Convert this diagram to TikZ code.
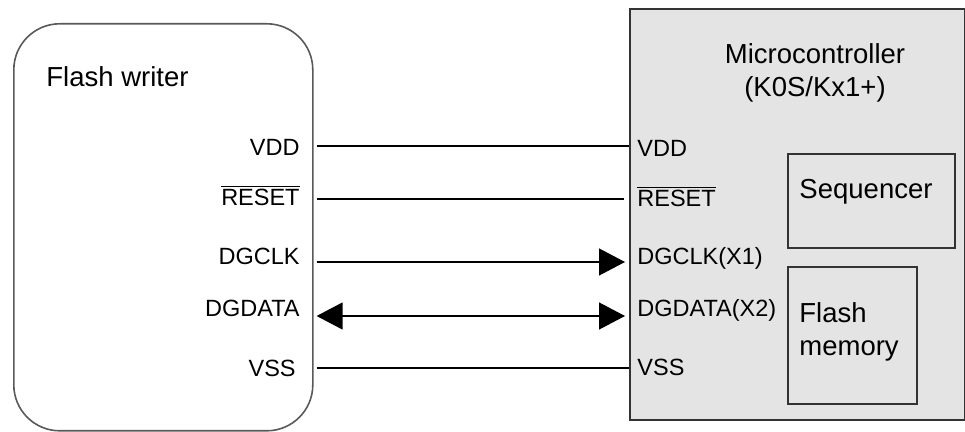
\documentclass[tikz,border=0pt]{standalone}
\usepackage{fontspec}
\setmainfont{Liberation Sans}
\usetikzlibrary{arrows.meta}
\definecolor{mcugray}{RGB}{228,228,228}
\tikzset{
    title/.style={font=\fontsize{13.75}{16.5}\selectfont, inner sep=0pt},
    pin/.style={font=\fontsize{11.75}{14}\selectfont, inner sep=0pt, text height=8.4pt, text depth=0pt},
    box/.style={draw=black!80, line width=0.8pt, anchor=north west, inner sep=0pt},
    wire/.style={line width=0.65pt},
    tip/.style={-{Triangle[length=13pt,width=13.5pt]}},
    twotip/.style={{Triangle[length=13pt,width=13.5pt]}-{Triangle[length=13pt,width=13.5pt]}},
}

\begin{document}
\begin{tikzpicture}[x=0.5pt,y=-0.5pt]
    \useasboundingbox (0,0) rectangle (965,432);
    % devices
    \node[box, draw=black!65, rounded corners=23pt, minimum width=149.5pt, minimum height=203.5pt] (writer) at (13,23) {};
    \node[box, fill=mcugray, minimum width=167.5pt, minimum height=205.5pt] (mcu) at (629,8) {};
    \node[box, minimum width=83.5pt, minimum height=47pt] (seq) at (787,153) {};
    \node[box, minimum width=64.5pt, minimum height=68.5pt] (flash) at (787,266) {};
    \node[title, anchor=west] (wtitle) at (46,77) {Flash writer};
    \node[title, align=center] (mtitle) at (815,73) {Microcontroller\\(K0S/Kx1+)};
    \node[title] (seqtext) at (866,192) {Sequencer};
    \node[title, align=left, anchor=north west] (flashtext) at (799,302) {Flash\\memory};
    % signal rows
    \coordinate (rvdd) at (0,146);
    \coordinate (rres) at (0,199);
    \coordinate (rclk) at (0,262);
    \coordinate (rdat) at (0,316);
    \coordinate (rvss) at (0,368);
    % writer pins
    \node[pin, anchor=east] (wvdd) at (300,147) {VDD};
    \node[pin, anchor=east] (wres) at (300,197) {$\overline{\mbox{RESET}}$};
    \node[pin, anchor=east] (wclk) at (300,256) {DGCLK};
    \node[pin, anchor=east] (wdat) at (300,308) {DGDATA};
    \node[pin, anchor=east] (wvss) at (296,368) {VSS};
    % microcontroller pins
    \node[pin, anchor=west] (mvdd) at (637,148) {VDD};
    \node[pin, anchor=west] (mres) at (637,198) {$\overline{\mbox{RESET}}$};
    \node[pin, anchor=west] (mclk) at (637,256) {DGCLK(X1)};
    \node[pin, anchor=west] (mdat) at (637,308) {DGDATA(X2)};
    \node[pin, anchor=west] (mvss) at (637,367) {VSS};
    % connections
    \draw[wire, shorten <=1.5pt] (writer.east |- rvdd) -- (mcu.west |- rvdd);
    \draw[wire, shorten <=1.5pt, shorten >=2.5pt] (writer.east |- rres) -- (mcu.west |- rres);
    \draw[wire, tip, shorten <=1.5pt, shorten >=2pt] (writer.east |- rclk) -- (mcu.west |- rclk);
    \draw[wire, twotip, shorten <=1.5pt, shorten >=2pt] (writer.east |- rdat) -- (mcu.west |- rdat);
    \draw[wire, shorten <=1.5pt] (writer.east |- rvss) -- (mcu.west |- rvss);
\end{tikzpicture}
\end{document}
